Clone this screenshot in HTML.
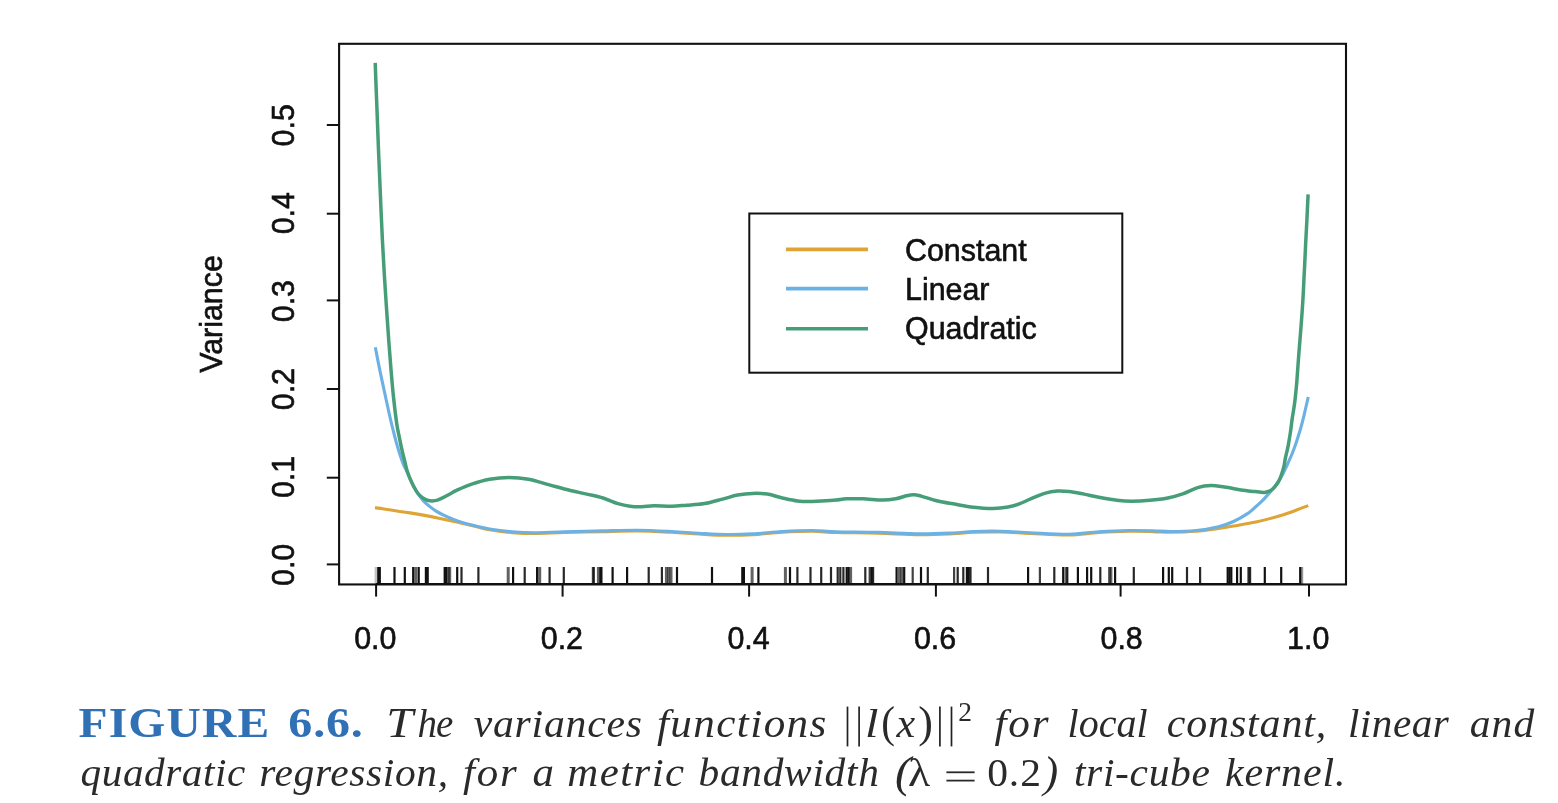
<!DOCTYPE html>
<html lang="en">
<head>
<meta charset="utf-8">
<title>Figure 6.6</title>
<style>
html,body{margin:0;padding:0;background:#fff;}
body{width:1558px;height:803px;overflow:hidden;position:relative;font-family:"Liberation Serif",serif;}
svg{position:absolute;left:0;top:0;filter:blur(0.45px);}
.lab{font-family:"Liberation Sans",sans-serif;font-size:30.4px;fill:#111;stroke:#111;stroke-width:0.6px;}
.cb{font-family:"Liberation Serif",serif;font-weight:bold;font-size:41.5px;fill:#3071B6;}
.ci{font-family:"Liberation Serif",serif;font-style:italic;font-size:40px;fill:#2a2a2a;}
.cT2{font-family:"Liberation Serif",serif;font-style:italic;font-size:42.5px;fill:#2a2a2a;}
.cm{font-family:"Liberation Serif",serif;font-size:40px;fill:#2a2a2a;}
</style>
</head>
<body>
<svg width="1558" height="803" viewBox="0 0 1558 803">
<rect x="339.1" y="43.8" width="1006.9" height="540.6500000000001" fill="none" stroke="#111111" stroke-width="2.1"/>
<line x1="326.8" y1="564.4" x2="339.1" y2="564.4" stroke="#111111" stroke-width="2"/>
<text class="lab" text-anchor="middle" transform="translate(293.6 564.9) rotate(-90) scale(1 1.06)">0.0</text>
<line x1="326.8" y1="477.7" x2="339.1" y2="477.7" stroke="#111111" stroke-width="2"/>
<text class="lab" text-anchor="middle" transform="translate(293.6 477.0) rotate(-90) scale(1 1.06)">0.1</text>
<line x1="326.8" y1="389.0" x2="339.1" y2="389.0" stroke="#111111" stroke-width="2"/>
<text class="lab" text-anchor="middle" transform="translate(293.6 389.1) rotate(-90) scale(1 1.06)">0.2</text>
<line x1="326.8" y1="300.4" x2="339.1" y2="300.4" stroke="#111111" stroke-width="2"/>
<text class="lab" text-anchor="middle" transform="translate(293.6 301.1) rotate(-90) scale(1 1.06)">0.3</text>
<line x1="326.8" y1="213.7" x2="339.1" y2="213.7" stroke="#111111" stroke-width="2"/>
<text class="lab" text-anchor="middle" transform="translate(293.6 213.2) rotate(-90) scale(1 1.06)">0.4</text>
<line x1="326.8" y1="125.0" x2="339.1" y2="125.0" stroke="#111111" stroke-width="2"/>
<text class="lab" text-anchor="middle" transform="translate(293.6 125.3) rotate(-90) scale(1 1.06)">0.5</text>
<line x1="376.1" y1="584.45" x2="376.1" y2="596.6" stroke="#111111" stroke-width="2"/>
<text class="lab" text-anchor="middle" transform="translate(375.3 648.8) scale(1 1.06)">0.0</text>
<line x1="562.6" y1="584.45" x2="562.6" y2="596.6" stroke="#111111" stroke-width="2"/>
<text class="lab" text-anchor="middle" transform="translate(561.9 648.8) scale(1 1.06)">0.2</text>
<line x1="749.1" y1="584.45" x2="749.1" y2="596.6" stroke="#111111" stroke-width="2"/>
<text class="lab" text-anchor="middle" transform="translate(748.5 648.8) scale(1 1.06)">0.4</text>
<line x1="935.9" y1="584.45" x2="935.9" y2="596.6" stroke="#111111" stroke-width="2"/>
<text class="lab" text-anchor="middle" transform="translate(935.0 648.8) scale(1 1.06)">0.6</text>
<line x1="1120.6" y1="584.45" x2="1120.6" y2="596.6" stroke="#111111" stroke-width="2"/>
<text class="lab" text-anchor="middle" transform="translate(1121.6 648.8) scale(1 1.06)">0.8</text>
<line x1="1309.0" y1="584.45" x2="1309.0" y2="596.6" stroke="#111111" stroke-width="2"/>
<text class="lab" text-anchor="middle" transform="translate(1308.2 648.8) scale(1 1.06)">1.0</text>
<text class="lab" text-anchor="middle" transform="translate(221.6 314) rotate(-90) scale(1 1.06)">Variance</text>
<line x1="376" y1="583.5" x2="1301" y2="583.5" stroke="#111" stroke-width="1.2"/>
<line x1="376.1" y1="567.0" x2="376.1" y2="584.45" stroke="#111" stroke-opacity="0.25" stroke-width="3.0"/>
<line x1="378.3" y1="567.0" x2="378.3" y2="584.45" stroke="#111" stroke-opacity="1" stroke-width="2.2"/>
<line x1="379.8" y1="567.0" x2="379.8" y2="584.45" stroke="#111" stroke-opacity="1" stroke-width="2.2"/>
<line x1="394.5" y1="567.0" x2="394.5" y2="584.45" stroke="#111" stroke-opacity="1" stroke-width="2.2"/>
<line x1="404.8" y1="567.0" x2="404.8" y2="584.45" stroke="#111" stroke-opacity="1" stroke-width="2.2"/>
<line x1="413.2" y1="567.0" x2="413.2" y2="584.45" stroke="#111" stroke-opacity="1" stroke-width="2.2"/>
<line x1="415.8" y1="567.0" x2="415.8" y2="584.45" stroke="#111" stroke-opacity="0.66" stroke-width="3.0"/>
<line x1="418.7" y1="567.0" x2="418.7" y2="584.45" stroke="#111" stroke-opacity="1" stroke-width="2.2"/>
<line x1="425.9" y1="567.0" x2="425.9" y2="584.45" stroke="#111" stroke-opacity="1" stroke-width="2.2"/>
<line x1="427.7" y1="567.0" x2="427.7" y2="584.45" stroke="#111" stroke-opacity="1" stroke-width="2.2"/>
<line x1="444.7" y1="567.0" x2="444.7" y2="584.45" stroke="#111" stroke-opacity="1" stroke-width="2.2"/>
<line x1="446.1" y1="567.0" x2="446.1" y2="584.45" stroke="#111" stroke-opacity="1" stroke-width="2.2"/>
<line x1="448.3" y1="567.0" x2="448.3" y2="584.45" stroke="#111" stroke-opacity="0.66" stroke-width="3.0"/>
<line x1="449.7" y1="567.0" x2="449.7" y2="584.45" stroke="#111" stroke-opacity="0.66" stroke-width="3.0"/>
<line x1="457.2" y1="567.0" x2="457.2" y2="584.45" stroke="#111" stroke-opacity="1" stroke-width="2.2"/>
<line x1="461.5" y1="567.0" x2="461.5" y2="584.45" stroke="#111" stroke-opacity="0.9" stroke-width="2.2"/>
<line x1="478.4" y1="567.0" x2="478.4" y2="584.45" stroke="#111" stroke-opacity="0.9" stroke-width="2.2"/>
<line x1="508.2" y1="567.0" x2="508.2" y2="584.45" stroke="#111" stroke-opacity="0.66" stroke-width="3.0"/>
<line x1="513.1" y1="567.0" x2="513.1" y2="584.45" stroke="#111" stroke-opacity="1" stroke-width="2.2"/>
<line x1="524.7" y1="567.0" x2="524.7" y2="584.45" stroke="#111" stroke-opacity="0.9" stroke-width="2.2"/>
<line x1="537.1" y1="567.0" x2="537.1" y2="584.45" stroke="#111" stroke-opacity="1" stroke-width="2.2"/>
<line x1="539.7" y1="567.0" x2="539.7" y2="584.45" stroke="#111" stroke-opacity="0.66" stroke-width="3.0"/>
<line x1="549.6" y1="567.0" x2="549.6" y2="584.45" stroke="#111" stroke-opacity="0.9" stroke-width="2.2"/>
<line x1="563.8" y1="567.0" x2="563.8" y2="584.45" stroke="#111" stroke-opacity="0.9" stroke-width="2.2"/>
<line x1="592.9" y1="567.0" x2="592.9" y2="584.45" stroke="#111" stroke-opacity="0.8" stroke-width="2.2"/>
<line x1="593.9" y1="567.0" x2="593.9" y2="584.45" stroke="#111" stroke-opacity="0.8" stroke-width="2.2"/>
<line x1="598.4" y1="567.0" x2="598.4" y2="584.45" stroke="#111" stroke-opacity="0.66" stroke-width="3.0"/>
<line x1="600.4" y1="567.0" x2="600.4" y2="584.45" stroke="#111" stroke-opacity="1" stroke-width="2.2"/>
<line x1="601.4" y1="567.0" x2="601.4" y2="584.45" stroke="#111" stroke-opacity="1" stroke-width="2.2"/>
<line x1="612.6" y1="567.0" x2="612.6" y2="584.45" stroke="#111" stroke-opacity="1" stroke-width="2.2"/>
<line x1="627.1" y1="567.0" x2="627.1" y2="584.45" stroke="#111" stroke-opacity="1" stroke-width="2.2"/>
<line x1="648.7" y1="567.0" x2="648.7" y2="584.45" stroke="#111" stroke-opacity="0.9" stroke-width="2.2"/>
<line x1="661.9" y1="567.0" x2="661.9" y2="584.45" stroke="#111" stroke-opacity="0.9" stroke-width="2.2"/>
<line x1="666.4" y1="567.0" x2="666.4" y2="584.45" stroke="#111" stroke-opacity="0.66" stroke-width="3.0"/>
<line x1="668.7" y1="567.0" x2="668.7" y2="584.45" stroke="#111" stroke-opacity="0.66" stroke-width="3.0"/>
<line x1="671.0" y1="567.0" x2="671.0" y2="584.45" stroke="#111" stroke-opacity="0.66" stroke-width="3.0"/>
<line x1="677.0" y1="567.0" x2="677.0" y2="584.45" stroke="#111" stroke-opacity="1" stroke-width="2.2"/>
<line x1="712.0" y1="567.0" x2="712.0" y2="584.45" stroke="#111" stroke-opacity="1" stroke-width="2.2"/>
<line x1="742.3" y1="567.0" x2="742.3" y2="584.45" stroke="#111" stroke-opacity="1" stroke-width="2.2"/>
<line x1="743.9" y1="567.0" x2="743.9" y2="584.45" stroke="#111" stroke-opacity="1" stroke-width="2.2"/>
<line x1="752.1" y1="567.0" x2="752.1" y2="584.45" stroke="#111" stroke-opacity="0.66" stroke-width="3.0"/>
<line x1="758.4" y1="567.0" x2="758.4" y2="584.45" stroke="#111" stroke-opacity="1" stroke-width="2.2"/>
<line x1="785.4" y1="567.0" x2="785.4" y2="584.45" stroke="#111" stroke-opacity="0.66" stroke-width="3.0"/>
<line x1="790.0" y1="567.0" x2="790.0" y2="584.45" stroke="#111" stroke-opacity="1" stroke-width="2.2"/>
<line x1="797.4" y1="567.0" x2="797.4" y2="584.45" stroke="#111" stroke-opacity="0.9" stroke-width="2.2"/>
<line x1="810.5" y1="567.0" x2="810.5" y2="584.45" stroke="#111" stroke-opacity="0.9" stroke-width="2.2"/>
<line x1="821.2" y1="567.0" x2="821.2" y2="584.45" stroke="#111" stroke-opacity="0.9" stroke-width="2.2"/>
<line x1="831.0" y1="567.0" x2="831.0" y2="584.45" stroke="#111" stroke-opacity="0.9" stroke-width="2.2"/>
<line x1="837.7" y1="567.0" x2="837.7" y2="584.45" stroke="#111" stroke-opacity="0.9" stroke-width="2.2"/>
<line x1="840.3" y1="567.0" x2="840.3" y2="584.45" stroke="#111" stroke-opacity="0.9" stroke-width="2.2"/>
<line x1="843.4" y1="567.0" x2="843.4" y2="584.45" stroke="#111" stroke-opacity="0.9" stroke-width="2.2"/>
<line x1="846.7" y1="567.0" x2="846.7" y2="584.45" stroke="#111" stroke-opacity="1" stroke-width="2.2"/>
<line x1="848.5" y1="567.0" x2="848.5" y2="584.45" stroke="#111" stroke-opacity="1" stroke-width="2.2"/>
<line x1="850.6" y1="567.0" x2="850.6" y2="584.45" stroke="#111" stroke-opacity="0.66" stroke-width="3.0"/>
<line x1="865.3" y1="567.0" x2="865.3" y2="584.45" stroke="#111" stroke-opacity="0.9" stroke-width="2.2"/>
<line x1="869.7" y1="567.0" x2="869.7" y2="584.45" stroke="#111" stroke-opacity="0.8" stroke-width="2.2"/>
<line x1="871.5" y1="567.0" x2="871.5" y2="584.45" stroke="#111" stroke-opacity="1" stroke-width="2.2"/>
<line x1="873.1" y1="567.0" x2="873.1" y2="584.45" stroke="#111" stroke-opacity="0.9" stroke-width="2.2"/>
<line x1="896.6" y1="567.0" x2="896.6" y2="584.45" stroke="#111" stroke-opacity="1" stroke-width="2.2"/>
<line x1="899.5" y1="567.0" x2="899.5" y2="584.45" stroke="#111" stroke-opacity="0.66" stroke-width="3.0"/>
<line x1="901.9" y1="567.0" x2="901.9" y2="584.45" stroke="#111" stroke-opacity="0.66" stroke-width="3.0"/>
<line x1="904.2" y1="567.0" x2="904.2" y2="584.45" stroke="#111" stroke-opacity="1" stroke-width="2.2"/>
<line x1="912.7" y1="567.0" x2="912.7" y2="584.45" stroke="#111" stroke-opacity="0.8" stroke-width="2.2"/>
<line x1="921.0" y1="567.0" x2="921.0" y2="584.45" stroke="#111" stroke-opacity="1" stroke-width="2.2"/>
<line x1="927.8" y1="567.0" x2="927.8" y2="584.45" stroke="#111" stroke-opacity="0.9" stroke-width="2.2"/>
<line x1="954.1" y1="567.0" x2="954.1" y2="584.45" stroke="#111" stroke-opacity="0.8" stroke-width="2.2"/>
<line x1="957.7" y1="567.0" x2="957.7" y2="584.45" stroke="#111" stroke-opacity="0.9" stroke-width="2.2"/>
<line x1="963.3" y1="567.0" x2="963.3" y2="584.45" stroke="#111" stroke-opacity="0.9" stroke-width="2.2"/>
<line x1="966.9" y1="567.0" x2="966.9" y2="584.45" stroke="#111" stroke-opacity="1" stroke-width="2.2"/>
<line x1="968.7" y1="567.0" x2="968.7" y2="584.45" stroke="#111" stroke-opacity="1" stroke-width="2.2"/>
<line x1="970.5" y1="567.0" x2="970.5" y2="584.45" stroke="#111" stroke-opacity="0.9" stroke-width="2.2"/>
<line x1="988.0" y1="567.0" x2="988.0" y2="584.45" stroke="#111" stroke-opacity="0.9" stroke-width="2.2"/>
<line x1="1028.1" y1="567.0" x2="1028.1" y2="584.45" stroke="#111" stroke-opacity="1" stroke-width="2.2"/>
<line x1="1039.9" y1="567.0" x2="1039.9" y2="584.45" stroke="#111" stroke-opacity="0.8" stroke-width="2.2"/>
<line x1="1054.3" y1="567.0" x2="1054.3" y2="584.45" stroke="#111" stroke-opacity="0.9" stroke-width="2.2"/>
<line x1="1063.2" y1="567.0" x2="1063.2" y2="584.45" stroke="#111" stroke-opacity="1" stroke-width="2.2"/>
<line x1="1066.1" y1="567.0" x2="1066.1" y2="584.45" stroke="#111" stroke-opacity="0.66" stroke-width="3.0"/>
<line x1="1067.3" y1="567.0" x2="1067.3" y2="584.45" stroke="#111" stroke-opacity="0.9" stroke-width="2.2"/>
<line x1="1077.9" y1="567.0" x2="1077.9" y2="584.45" stroke="#111" stroke-opacity="1" stroke-width="2.2"/>
<line x1="1087.1" y1="567.0" x2="1087.1" y2="584.45" stroke="#111" stroke-opacity="1" stroke-width="2.2"/>
<line x1="1091.2" y1="567.0" x2="1091.2" y2="584.45" stroke="#111" stroke-opacity="1" stroke-width="2.2"/>
<line x1="1100.3" y1="567.0" x2="1100.3" y2="584.45" stroke="#111" stroke-opacity="0.9" stroke-width="2.2"/>
<line x1="1109.5" y1="567.0" x2="1109.5" y2="584.45" stroke="#111" stroke-opacity="0.66" stroke-width="3.0"/>
<line x1="1110.9" y1="567.0" x2="1110.9" y2="584.45" stroke="#111" stroke-opacity="0.66" stroke-width="3.0"/>
<line x1="1115.1" y1="567.0" x2="1115.1" y2="584.45" stroke="#111" stroke-opacity="1" stroke-width="2.2"/>
<line x1="1133.8" y1="567.0" x2="1133.8" y2="584.45" stroke="#111" stroke-opacity="0.9" stroke-width="2.2"/>
<line x1="1163.1" y1="567.0" x2="1163.1" y2="584.45" stroke="#111" stroke-opacity="1" stroke-width="2.2"/>
<line x1="1168.8" y1="567.0" x2="1168.8" y2="584.45" stroke="#111" stroke-opacity="1" stroke-width="2.2"/>
<line x1="1172.2" y1="567.0" x2="1172.2" y2="584.45" stroke="#111" stroke-opacity="1" stroke-width="2.2"/>
<line x1="1187.0" y1="567.0" x2="1187.0" y2="584.45" stroke="#111" stroke-opacity="0.9" stroke-width="2.2"/>
<line x1="1200.1" y1="567.0" x2="1200.1" y2="584.45" stroke="#111" stroke-opacity="0.9" stroke-width="2.2"/>
<line x1="1227.7" y1="567.0" x2="1227.7" y2="584.45" stroke="#111" stroke-opacity="1" stroke-width="2.2"/>
<line x1="1229.5" y1="567.0" x2="1229.5" y2="584.45" stroke="#111" stroke-opacity="1" stroke-width="2.2"/>
<line x1="1231.3" y1="567.0" x2="1231.3" y2="584.45" stroke="#111" stroke-opacity="1" stroke-width="2.2"/>
<line x1="1237.1" y1="567.0" x2="1237.1" y2="584.45" stroke="#111" stroke-opacity="1" stroke-width="2.2"/>
<line x1="1240.8" y1="567.0" x2="1240.8" y2="584.45" stroke="#111" stroke-opacity="1" stroke-width="2.2"/>
<line x1="1248.5" y1="567.0" x2="1248.5" y2="584.45" stroke="#111" stroke-opacity="0.9" stroke-width="2.2"/>
<line x1="1250.1" y1="567.0" x2="1250.1" y2="584.45" stroke="#111" stroke-opacity="0.9" stroke-width="2.2"/>
<line x1="1264.8" y1="567.0" x2="1264.8" y2="584.45" stroke="#111" stroke-opacity="1" stroke-width="2.2"/>
<line x1="1281.2" y1="567.0" x2="1281.2" y2="584.45" stroke="#111" stroke-opacity="1" stroke-width="2.2"/>
<line x1="1300.2" y1="567.0" x2="1300.2" y2="584.45" stroke="#111" stroke-opacity="1" stroke-width="2.2"/>
<line x1="1301.7" y1="567.0" x2="1301.7" y2="584.45" stroke="#111" stroke-opacity="0.45" stroke-width="3.0"/>
<path d="M375.0 507.6C380.8 508.5 399.0 511.1 409.9 512.9C420.8 514.7 431.8 516.8 440.1 518.4C448.4 520.0 453.7 521.4 459.7 522.8C465.7 524.2 471.0 525.4 476.0 526.6C481.0 527.8 483.6 528.8 489.6 529.8C495.6 530.8 504.6 532.0 512.1 532.6C519.6 533.2 525.8 533.5 534.5 533.5C543.2 533.5 553.0 532.8 564.4 532.5C575.8 532.2 590.8 531.9 603.0 531.7C615.2 531.4 625.9 530.9 637.4 531.0C648.9 531.1 661.6 531.8 671.8 532.3C682.0 532.8 689.5 533.5 698.7 534.0C707.9 534.5 718.1 535.2 727.1 535.3C736.1 535.4 743.3 535.2 752.5 534.7C761.7 534.2 772.4 532.9 782.4 532.3C792.4 531.7 803.5 531.3 812.4 531.3C821.3 531.3 825.1 532.2 836.0 532.5C846.9 532.8 863.9 532.8 877.9 533.2C891.9 533.6 907.2 534.6 919.7 534.7C932.2 534.8 943.6 534.2 952.6 533.8C961.6 533.4 965.6 532.6 973.6 532.3C981.6 532.0 991.0 531.8 1000.5 532.0C1010.0 532.2 1019.0 533.0 1030.4 533.5C1041.8 534.0 1057.6 535.2 1069.0 535.0C1080.4 534.8 1088.9 533.1 1098.9 532.5C1108.9 531.9 1119.8 531.4 1128.8 531.3C1137.8 531.1 1145.7 531.4 1152.7 531.6C1159.7 531.8 1163.5 532.3 1170.7 532.3C1177.9 532.2 1188.1 531.9 1196.1 531.3C1204.1 530.6 1212.3 529.3 1218.5 528.4C1224.7 527.5 1227.3 527.1 1233.5 526.0C1239.7 524.9 1248.4 523.6 1255.9 522.0C1263.4 520.4 1272.7 517.9 1278.4 516.3C1284.1 514.7 1286.1 513.9 1290.0 512.5C1293.9 511.1 1299.0 509.0 1302.0 507.9C1305.0 506.8 1307.2 506.0 1308.3 505.6" fill="none" stroke="#DEA536" stroke-width="3.1" stroke-linecap="butt" stroke-linejoin="round"/>
<path d="M375.3 347.3C376.2 351.7 378.8 365.3 380.6 373.9C382.4 382.5 384.7 393.0 386.0 399.0C387.3 405.0 387.6 406.2 388.4 410.0C389.2 413.8 390.1 417.5 391.0 421.5C391.9 425.5 393.1 430.0 394.1 434.0C395.1 438.0 396.1 441.8 397.2 445.5C398.2 449.2 399.4 452.9 400.4 456.0C401.4 459.1 402.4 461.9 403.4 464.4C404.4 466.9 405.5 468.7 406.6 471.0C407.7 473.3 408.6 475.6 409.8 478.1C411.0 480.6 412.3 483.6 413.6 486.2C414.9 488.8 416.1 490.9 417.8 493.4C419.5 495.9 421.8 499.0 423.7 501.1C425.6 503.2 427.2 504.4 429.3 506.1C431.4 507.8 433.7 509.6 436.1 511.1C438.5 512.6 441.3 514.0 443.6 515.1C445.9 516.2 446.3 516.6 450.0 518.0C453.7 519.4 459.1 521.8 465.7 523.6C472.3 525.4 481.9 527.6 489.6 529.0C497.3 530.4 504.6 531.2 512.1 531.8C519.6 532.4 525.8 532.7 534.5 532.7C543.2 532.7 553.0 532.0 564.4 531.7C575.8 531.4 590.8 531.1 603.0 530.9C615.2 530.6 625.9 530.1 637.4 530.2C648.9 530.3 661.6 531.0 671.8 531.5C682.0 532.0 689.5 532.7 698.7 533.2C707.9 533.7 718.1 534.4 727.1 534.5C736.1 534.6 743.3 534.4 752.5 533.9C761.7 533.4 772.4 532.1 782.4 531.5C792.4 530.9 803.5 530.5 812.4 530.5C821.3 530.5 825.1 531.4 836.0 531.7C846.9 532.0 863.9 532.0 877.9 532.4C891.9 532.8 907.2 533.8 919.7 533.9C932.2 534.0 943.6 533.4 952.6 533.0C961.6 532.6 965.6 531.8 973.6 531.5C981.6 531.2 991.0 531.0 1000.5 531.2C1010.0 531.4 1019.0 532.2 1030.4 532.7C1041.8 533.2 1057.6 534.4 1069.0 534.2C1080.4 534.0 1088.9 532.3 1098.9 531.7C1108.9 531.1 1119.8 530.6 1128.8 530.5C1137.8 530.4 1145.7 530.6 1152.7 530.8C1159.7 531.0 1163.5 531.5 1170.7 531.5C1177.9 531.5 1188.1 531.3 1196.1 530.5C1204.1 529.7 1212.3 528.2 1218.5 526.7C1224.7 525.2 1228.7 523.7 1233.5 521.5C1238.3 519.3 1244.0 515.9 1247.5 513.6C1251.0 511.4 1252.1 509.9 1254.3 508.0C1256.5 506.1 1258.7 504.2 1260.6 502.4C1262.5 500.6 1264.0 499.1 1265.5 497.4C1267.0 495.7 1268.5 494.0 1269.9 492.4C1271.3 490.8 1272.7 489.1 1274.0 487.5C1275.3 485.9 1276.5 484.2 1277.7 482.5C1278.9 480.8 1279.9 479.2 1280.9 477.5C1281.9 475.8 1282.8 474.2 1283.6 472.5C1284.4 470.8 1285.2 469.1 1286.0 467.5C1286.8 465.9 1287.2 464.9 1288.2 462.7C1289.2 460.4 1290.7 457.2 1292.0 454.0C1293.3 450.8 1294.6 447.3 1295.9 443.5C1297.2 439.7 1298.6 435.2 1299.8 431.3C1301.0 427.4 1301.9 423.8 1302.9 420.0C1303.9 416.2 1304.7 412.3 1305.6 408.5C1306.5 404.7 1307.8 398.9 1308.3 397.0" fill="none" stroke="#6CB1E3" stroke-width="3.1" stroke-linecap="butt" stroke-linejoin="round"/>
<path d="M375.2 62.9C375.5 69.9 376.2 90.5 376.8 105.0C377.4 119.5 377.9 135.0 378.5 150.0C379.1 165.0 379.8 180.0 380.4 195.0C381.0 210.0 381.6 224.2 382.4 240.0C383.2 255.8 384.2 273.3 385.3 290.0C386.4 306.7 387.7 326.4 388.7 340.0C389.7 353.6 390.4 362.1 391.2 371.8C392.0 381.5 392.7 389.4 393.6 398.0C394.5 406.6 395.8 417.1 396.7 423.6C397.6 430.1 398.4 432.9 399.3 437.2C400.2 441.5 400.9 445.5 401.9 449.7C402.8 453.9 404.2 458.9 405.0 462.3C405.8 465.7 406.1 467.4 406.9 470.0C407.7 472.6 408.7 475.4 409.8 478.1C410.9 480.8 412.3 483.7 413.6 486.2C414.9 488.7 416.1 491.1 417.6 493.0C419.1 494.9 420.8 496.5 422.4 497.7C424.0 498.9 425.7 499.7 427.4 500.2C429.1 500.7 430.7 500.9 432.4 500.9C434.1 500.9 435.5 500.8 437.4 500.2C439.3 499.6 441.5 498.4 443.6 497.4C445.7 496.4 447.9 495.1 450.0 494.0C452.1 492.9 452.4 492.2 456.0 490.6C459.6 489.0 466.1 486.0 471.7 484.1C477.3 482.2 483.4 480.3 489.6 479.2C495.8 478.1 502.6 477.4 509.1 477.4C515.6 477.4 521.8 477.9 528.5 479.2C535.2 480.4 542.5 483.0 549.5 484.9C556.5 486.8 564.2 489.0 570.4 490.5C576.6 492.0 581.4 492.9 586.8 494.1C592.2 495.4 597.8 496.4 603.0 498.0C608.2 499.6 613.5 502.2 618.0 503.6C622.5 505.0 625.9 505.7 629.9 506.2C633.9 506.7 637.9 506.8 641.9 506.7C645.9 506.6 648.8 505.9 653.8 505.8C658.8 505.7 666.3 506.3 671.8 506.2C677.3 506.1 681.2 505.6 686.7 505.2C692.2 504.8 698.7 504.6 704.7 503.6C710.7 502.6 717.1 500.5 722.6 499.1C728.1 497.7 732.6 495.9 737.6 495.0C742.6 494.1 747.5 493.5 752.5 493.4C757.5 493.2 762.5 493.3 767.5 494.1C772.5 494.9 777.4 496.9 782.4 498.0C787.4 499.1 792.9 500.4 797.4 501.0C801.9 501.6 805.4 501.6 809.4 501.6C813.4 501.6 816.9 501.2 821.3 501.0C825.7 500.8 831.8 500.5 836.0 500.1C840.2 499.7 842.0 499.0 846.5 498.8C851.0 498.6 856.9 498.6 862.9 498.8C868.9 499.0 876.9 500.1 882.4 500.1C887.9 500.1 891.8 499.5 895.8 498.8C899.8 498.1 903.3 496.5 906.3 495.8C909.3 495.1 911.3 494.6 913.8 494.7C916.3 494.8 917.2 495.1 921.2 496.1C925.2 497.2 932.0 499.6 937.7 501.0C943.4 502.4 949.6 503.2 955.6 504.3C961.6 505.4 967.4 506.6 973.6 507.3C979.8 508.0 987.3 508.6 993.0 508.5C998.7 508.4 1003.5 507.8 1008.0 507.0C1012.5 506.2 1015.7 505.2 1019.9 503.6C1024.1 502.0 1029.2 499.4 1033.4 497.6C1037.7 495.9 1041.4 494.2 1045.4 493.1C1049.4 492.0 1053.4 491.4 1057.3 491.1C1061.2 490.9 1064.5 491.1 1069.0 491.6C1073.5 492.1 1079.0 493.2 1084.0 494.1C1089.0 495.1 1093.4 496.3 1098.9 497.3C1104.4 498.3 1111.4 499.6 1116.9 500.3C1122.4 501.0 1126.3 501.3 1131.8 501.3C1137.3 501.3 1143.8 500.9 1149.8 500.3C1155.8 499.8 1162.2 499.1 1167.7 498.0C1173.2 496.9 1177.7 495.5 1182.7 493.8C1187.7 492.1 1192.9 489.0 1197.6 487.6C1202.3 486.2 1206.6 485.7 1211.1 485.6C1215.6 485.5 1219.5 486.4 1224.5 487.1C1229.5 487.8 1236.5 489.3 1241.0 490.0C1245.5 490.7 1248.5 491.0 1251.2 491.3C1254.0 491.6 1255.7 491.6 1257.5 491.8C1259.3 492.0 1260.8 492.2 1262.0 492.3C1263.2 492.4 1263.7 492.6 1264.9 492.4C1266.1 492.2 1268.0 491.8 1269.3 491.2C1270.6 490.6 1271.8 489.8 1273.0 488.7C1274.2 487.6 1275.6 486.0 1276.8 484.3C1278.0 482.6 1279.0 480.8 1279.9 478.7C1280.8 476.6 1281.7 474.1 1282.4 471.8C1283.1 469.5 1283.7 467.4 1284.2 465.0C1284.7 462.6 1284.8 460.6 1285.5 457.5C1286.2 454.4 1287.3 450.2 1288.1 446.1C1288.9 442.0 1289.6 437.5 1290.3 433.1C1291.0 428.8 1291.5 423.9 1292.0 420.0C1292.5 416.1 1293.1 413.3 1293.6 410.0C1294.1 406.7 1294.5 404.7 1295.0 400.0C1295.5 395.3 1296.2 389.6 1296.8 382.0C1297.4 374.4 1298.1 363.6 1298.8 354.4C1299.5 345.2 1300.3 336.1 1301.0 327.0C1301.7 317.9 1302.4 308.8 1302.9 299.6C1303.5 290.4 1303.8 281.1 1304.3 272.0C1304.8 262.9 1305.2 253.5 1305.6 244.8C1306.0 236.1 1306.5 228.4 1306.9 220.0C1307.3 211.6 1307.9 198.6 1308.1 194.3" fill="none" stroke="#469E78" stroke-width="3.5" stroke-linecap="butt" stroke-linejoin="round"/>
<rect x="749.3" y="213.5" width="373" height="159.2" fill="#fff" stroke="#111111" stroke-width="2"/>
<line x1="786" y1="249.4" x2="868" y2="249.4" stroke="#DEA536" stroke-width="3.6"/>
<text class="lab" transform="translate(905 261.0) scale(1 1.06)">Constant</text>
<line x1="786" y1="288.6" x2="868" y2="288.6" stroke="#6CB1E3" stroke-width="3.6"/>
<text class="lab" transform="translate(905 299.8) scale(1 1.06)">Linear</text>
<line x1="786" y1="328.8" x2="868" y2="328.8" stroke="#469E78" stroke-width="3.6"/>
<text class="lab" transform="translate(905 339.4) scale(1 1.06)">Quadratic</text>
<text class="cb" transform="translate(78.5 736.8) scale(1.1458 1)" style="letter-spacing:1.01px">FIGURE</text>
<text class="cb" transform="translate(288.3 736.8) scale(1.1587 1)" style="letter-spacing:0.68px">6.6.</text>
<text class="cT2" transform="translate(386.2 736.8) scale(1.1391 1)">T</text>
<text class="ci" transform="translate(417.4 736.8) scale(0.975 1)" style="letter-spacing:-0.92px">he</text>
<text class="ci" transform="translate(473.7 736.8) scale(1.0412 1)" style="letter-spacing:0.76px">variances</text>
<text class="ci" transform="translate(656.9 736.8) scale(1.0783 1)" style="letter-spacing:1.32px">functions</text>
<text class="ci" transform="translate(864.9 736.8) scale(1.2125 1)">l</text>
<text class="cm" transform="translate(881.3 737.1) scale(1.03 1.1)">(</text>
<text class="ci" transform="translate(896.6 736.8) scale(1.0526 1)">x</text>
<text class="cm" transform="translate(918.3 737.1) scale(1.1 1.1)">)</text>
<text class="ci" transform="translate(994.4 736.8) scale(1.0809 1)" style="letter-spacing:1.76px">for</text>
<text class="ci" transform="translate(1067.6 736.8) scale(1.0 1)">local</text>
<text class="ci" transform="translate(1166.8 736.8) scale(1.0486 1)" style="letter-spacing:0.82px">constant,</text>
<text class="ci" transform="translate(1347.9 736.8) scale(1.0287 1)" style="letter-spacing:0.52px">linear</text>
<text class="ci" transform="translate(1469.7 736.8) scale(1.0373 1)" style="letter-spacing:1.06px">and</text>
<text class="ci" transform="translate(80.6 786.1) scale(1.0292 1)" style="letter-spacing:0.55px">quadratic</text>
<text class="ci" transform="translate(259.2 786.1) scale(1.0372 1)" style="letter-spacing:0.62px">regression,</text>
<text class="ci" transform="translate(463.1 786.1) scale(1.0734 1)" style="letter-spacing:1.61px">for</text>
<text class="ci" transform="translate(532.6 786.1) scale(1.0722 1)">a</text>
<text class="ci" transform="translate(567.3 786.1) scale(1.0718 1)" style="letter-spacing:1.35px">metric</text>
<text class="ci" transform="translate(698.5 786.1) scale(1.0345 1)" style="letter-spacing:0.69px">bandwidth</text>
<text class="ci" transform="translate(895.1 787.3) scale(1.1929 1.1)">(</text>
<text class="cm" transform="translate(908.0 786.1) scale(1.1444 1)">λ</text>
<line x1="946.4" y1="772.3" x2="974.6" y2="772.3" stroke="#2a2a2a" stroke-width="1.8"/>
<line x1="946.4" y1="780.6" x2="974.6" y2="780.6" stroke="#2a2a2a" stroke-width="1.8"/>
<text class="cm" transform="translate(987.2 786.1) scale(1.0383 1)" style="letter-spacing:0.87px">0.2</text>
<text class="ci" transform="translate(1043.5 787.3) scale(1.1 1.1)">)</text>
<text class="ci" transform="translate(1073.9 786.1) scale(1.0375 1)" style="letter-spacing:0.64px">tri-cube</text>
<text class="ci" transform="translate(1225.0 786.1) scale(1.0486 1)" style="letter-spacing:0.82px">kernel.</text>
<line x1="847.5" y1="706.6" x2="847.5" y2="746.4" stroke="#222" stroke-width="1.7"/>
<line x1="859.1" y1="706.6" x2="859.1" y2="746.4" stroke="#222" stroke-width="1.7"/>
<line x1="939.9" y1="706.6" x2="939.9" y2="746.4" stroke="#222" stroke-width="1.7"/>
<line x1="951.5" y1="706.6" x2="951.5" y2="746.4" stroke="#222" stroke-width="1.7"/>
<text class="cm" style="font-size:27.5px" x="958.3" y="720.7">2</text>
</svg>
</body>
</html>
